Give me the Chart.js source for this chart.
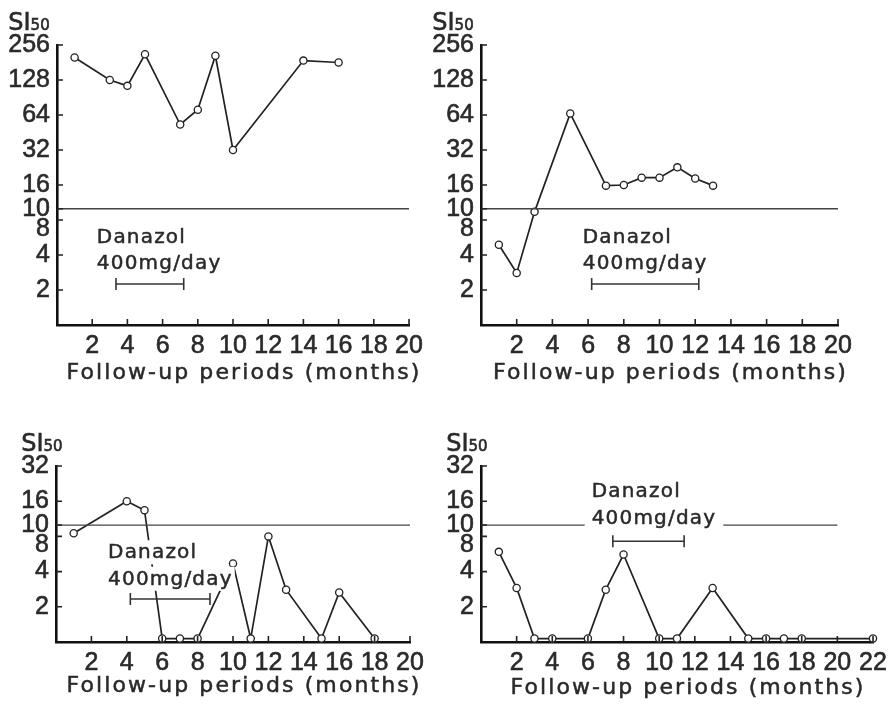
<!DOCTYPE html>
<html>
<head>
<meta charset="utf-8">
<script src="https://cdn.jsdelivr.net/npm/chart.js@4.4.1/dist/chart.umd.min.js"></script>
<style>
  html, body { margin: 0; padding: 0; background: #fff; }
  #figura { position: relative; width: 893px; height: 705px; }
  #figura canvas { position: absolute; left: 0; top: 0; }
</style>
</head>
<body>
<div id="figura">
  <canvas id="g1" width="893" height="705"></canvas>
  <canvas id="g2" width="893" height="705"></canvas>
  <canvas id="g3" width="893" height="705"></canvas>
  <canvas id="g4" width="893" height="705"></canvas>
</div>
<script>
// ===== dados (SI50 por mês de seguimento; 0 = sobre o eixo) =====
const meses1 = [1, 3, 4, 5, 7, 8, 9, 10, 14, 16]
const si1 = [200, 128, 114, 213, 53, 71, 207, 32, 188, 181]

const meses2 = [1, 2, 3, 5, 7, 8, 9, 10, 11, 12, 13]
const si2 = [4.9, 2.8, 9.4, 66, 15.8, 16, 18.5, 18.5, 22.7, 18.2, 15.8]

const meses3 = [1, 4, 5, 6, 7, 8, 10, 11, 12, 13, 15, 16, 18]
const si3 = [8.5, 16, 13.4, 0, 0, 0, 4.7, 0, 8, 2.8, 0, 2.65, 0]

const meses4 = [1, 2, 3, 4, 6, 7, 8, 10, 11, 13, 15, 16, 17, 18, 22]
const si4 = [5.9, 2.9, 0, 0, 0, 2.8, 5.6, 0, 0, 2.9, 0, 0, 0, 0, 0]

// período de Danazol 400mg/day (início, fim em meses)
const danazol1 = [3.35, 7.2]
const danazol2 = [6.2, 12.2]
const danazol3 = [4.2, 8.7]
const danazol4 = [7.4, 11.4]

// ticks
const ticksX20 = [2, 4, 6, 8, 10, 12, 14, 16, 18, 20]
const ticksX22 = [2, 4, 6, 8, 10, 12, 14, 16, 18, 20, 22]
const ticksYAlto = [2, 4, 8, 10, 16, 32, 64, 128, 256]
const ticksYBaixo = [2, 4, 8, 10, 16, 32]
const limiar = 10
const fimLimiar = 20

const ZERO = 1.07 // nível onde os valores 0 ficam apoiados no eixo
const FONTE_NUM = "'Liberation Sans', Arial, sans-serif"
const FONTE_TXT = "'DejaVu Sans', sans-serif"
const TINTA = '#222'

function pontos(meses, valores) {
    return meses.map((m, i) => ({ x: m, y: valores[i] === 0 ? ZERO : valores[i] }))
}

// escreve texto com um contorno fino (tinta mais carregada, como na impressão)
function escrever(ctx, t, x, y) {
    ctx.fillText(t, x, y)
    ctx.strokeText(t, x, y)
}

// marcas dos ticks voltadas para dentro, textos SI50 / eixo x / Danazol
const pluginTextos = {
    id: 'textos',
    afterDatasetsDraw(chart, args, op) {
        const ctx = chart.ctx
        const px = chart.scales.x.getPixelForValue(op.texto.x)
        const py = chart.scales.y.getPixelForValue(op.texto.y)
        ctx.save()
        ctx.font = `20px ${FONTE_TXT}`
        ctx.letterSpacing = '1.2px'
        ctx.textBaseline = 'alphabetic'
        ctx.textAlign = 'left'
        ctx.lineWidth = 0.5
        ctx.strokeStyle = '#2a2a2a'
        ;['Danazol', '400mg/day'].forEach((t, i) => {
            const w = ctx.measureText(t).width
            const by = py + i * 26.5
            ctx.fillStyle = '#fff'
            ctx.fillRect(px - op.texto.folga, by - 18, w + 2 * op.texto.folga, 24)
            ctx.fillStyle = '#2a2a2a'
            escrever(ctx, t, px, by)
        })
        ctx.restore()
    },
    afterDraw(chart, args, op) {
        const ctx = chart.ctx
        const area = chart.chartArea
        const x = chart.scales.x
        const y = chart.scales.y
        ctx.save()
        // ticks para dentro
        ctx.strokeStyle = TINTA
        ctx.lineWidth = 1.6
        ctx.beginPath()
        x.ticks.forEach(t => {
            const p = x.getPixelForValue(t.value)
            ctx.moveTo(p, area.bottom)
            ctx.lineTo(p, area.bottom - 6)
        })
        y.ticks.forEach(t => {
            const p = y.getPixelForValue(t.value)
            ctx.moveTo(area.left, p)
            ctx.lineTo(area.left + 6, p)
        })
        ctx.stroke()
        // SI50 alinhado com o maior rótulo do eixo y
        ctx.font = `25px ${FONTE_NUM}`
        const larg = Math.max(...y.ticks.map(t => ctx.measureText(String(t.value)).width))
        const sx = area.left - 7 - larg
        const sy = area.top - 15
        ctx.fillStyle = '#2a2a2a'
        ctx.strokeStyle = '#2a2a2a'
        ctx.lineWidth = 0.6
        ctx.textBaseline = 'alphabetic'
        ctx.textAlign = 'left'
        ctx.font = `24px ${FONTE_TXT}`
        escrever(ctx, 'SI', sx, sy)
        const wSI = ctx.measureText('SI').width
        ctx.font = `15px ${FONTE_TXT}`
        escrever(ctx, '50', sx + wSI, sy)
        // título do eixo x
        ctx.font = `22px ${FONTE_TXT}`
        ctx.letterSpacing = '2.1px'
        ctx.lineWidth = 0.5
        ctx.textAlign = 'center'
        ctx.textBaseline = 'alphabetic'
        escrever(ctx, 'Follow-up periods (months)', (area.left + area.right) / 2 + 11, area.bottom + op.tituloY)
        ctx.restore()
    }
}

function criarGrafico(id, p) {
    const area = p.area
    return new Chart(document.getElementById(id), {
        type: 'line',
        data: {
            datasets: [
                {
                    // linha de referência SI50 = 10
                    data: [{ x: 0, y: limiar }, { x: fimLimiar, y: limiar }],
                    borderColor: '#444',
                    borderWidth: 1.3,
                    pointRadius: 0,
                    clip: false
                },
                {
                    // barra do período de tratamento
                    data: [{ x: p.danazol[0], y: p.barraY }, { x: p.danazol[1], y: p.barraY }],
                    borderColor: '#333',
                    borderWidth: 1.6,
                    pointStyle: 'line',
                    pointRotation: 90,
                    pointRadius: 6,
                    pointBorderWidth: 1.6,
                    pointBorderColor: '#333',
                    clip: false
                },
                {
                    data: pontos(p.meses, p.si),
                    borderColor: TINTA,
                    borderWidth: 1.7,
                    pointRadius: 3.6,
                    pointBorderWidth: 1.3,
                    pointBackgroundColor: '#fff',
                    pointBorderColor: TINTA,
                    clip: false
                }
            ]
        },
        options: {
            responsive: false,
            animation: false,
            events: [],
            layout: {
                padding: {
                    left: area.left - 50,
                    top: area.top,
                    right: 893 - area.right,
                    bottom: 705 - area.bottom - 40
                }
            },
            plugins: {
                legend: { display: false },
                tooltip: { enabled: false },
                textos: { texto: p.texto, tituloY: p.tituloY }
            },
            scales: {
                x: {
                    type: 'linear',
                    min: 0,
                    max: p.xMax,
                    afterBuildTicks: (s) => { s.ticks = p.ticksX.map(v => ({ value: v })) },
                    afterFit: (s) => { s.height = 40 },
                    grid: { drawOnChartArea: false, drawTicks: false },
                    border: { color: '#111', width: 2.6 },
                    ticks: {
                        padding: 6,
                        maxRotation: 0,
                        autoSkip: false,
                        color: '#2a2a2a',
                        textStrokeColor: '#2a2a2a',
                        textStrokeWidth: 0.6,
                        font: { family: FONTE_NUM, size: 25 },
                        callback: (v) => String(v)
                    }
                },
                y: {
                    type: 'logarithmic',
                    min: 1,
                    max: p.yMax,
                    afterBuildTicks: (s) => { s.ticks = p.ticksY.map(v => ({ value: v })) },
                    afterFit: (s) => { s.width = 50 },
                    grid: { drawOnChartArea: false, drawTicks: false },
                    border: { color: '#111', width: 2.6 },
                    ticks: {
                        padding: 7,
                        autoSkip: false,
                        color: '#2a2a2a',
                        textStrokeColor: '#2a2a2a',
                        textStrokeWidth: 0.6,
                        // a linha vazia empurra o "8" para baixo, longe do "10"
                        font: { family: FONTE_NUM, size: 25, lineHeight: '18px' },
                        callback: (v) => v === 8 ? ['', '8'] : String(v)
                    }
                }
            }
        },
        plugins: [pluginTextos]
    })
}

criarGrafico('g1', {
    meses: meses1, si: si1, danazol: danazol1, barraY: 2.25,
    xMax: 20, yMax: 256, ticksX: ticksX20, ticksY: ticksYAlto,
    area: { left: 57, top: 45, right: 409, bottom: 325 },
    texto: { x: 2.26, y: 5.1, folga: 3 }, tituloY: 54
})
criarGrafico('g2', {
    meses: meses2, si: si2, danazol: danazol2, barraY: 2.25,
    xMax: 20, yMax: 256, ticksX: ticksX20, ticksY: ticksYAlto,
    area: { left: 481, top: 45, right: 838, bottom: 325 },
    texto: { x: 5.7, y: 5.1, folga: 3 }, tituloY: 54
})
criarGrafico('g3', {
    meses: meses3, si: si3, danazol: danazol3, barraY: 2.33,
    xMax: 20, yMax: 32, ticksX: ticksX20, ticksY: ticksYBaixo,
    area: { left: 56, top: 466, right: 410, bottom: 642 },
    texto: { x: 2.94, y: 5.2, folga: 2 }, tituloY: 50
})
criarGrafico('g4', {
    meses: meses4, si: si4, danazol: danazol4, barraY: 7.27,
    xMax: 22, yMax: 32, ticksX: ticksX22, ticksY: ticksYBaixo,
    area: { left: 481, top: 466, right: 873, bottom: 642 },
    texto: { x: 6.21, y: 17.3, folga: 7 }, tituloY: 52
})
</script>
</body>
</html>
